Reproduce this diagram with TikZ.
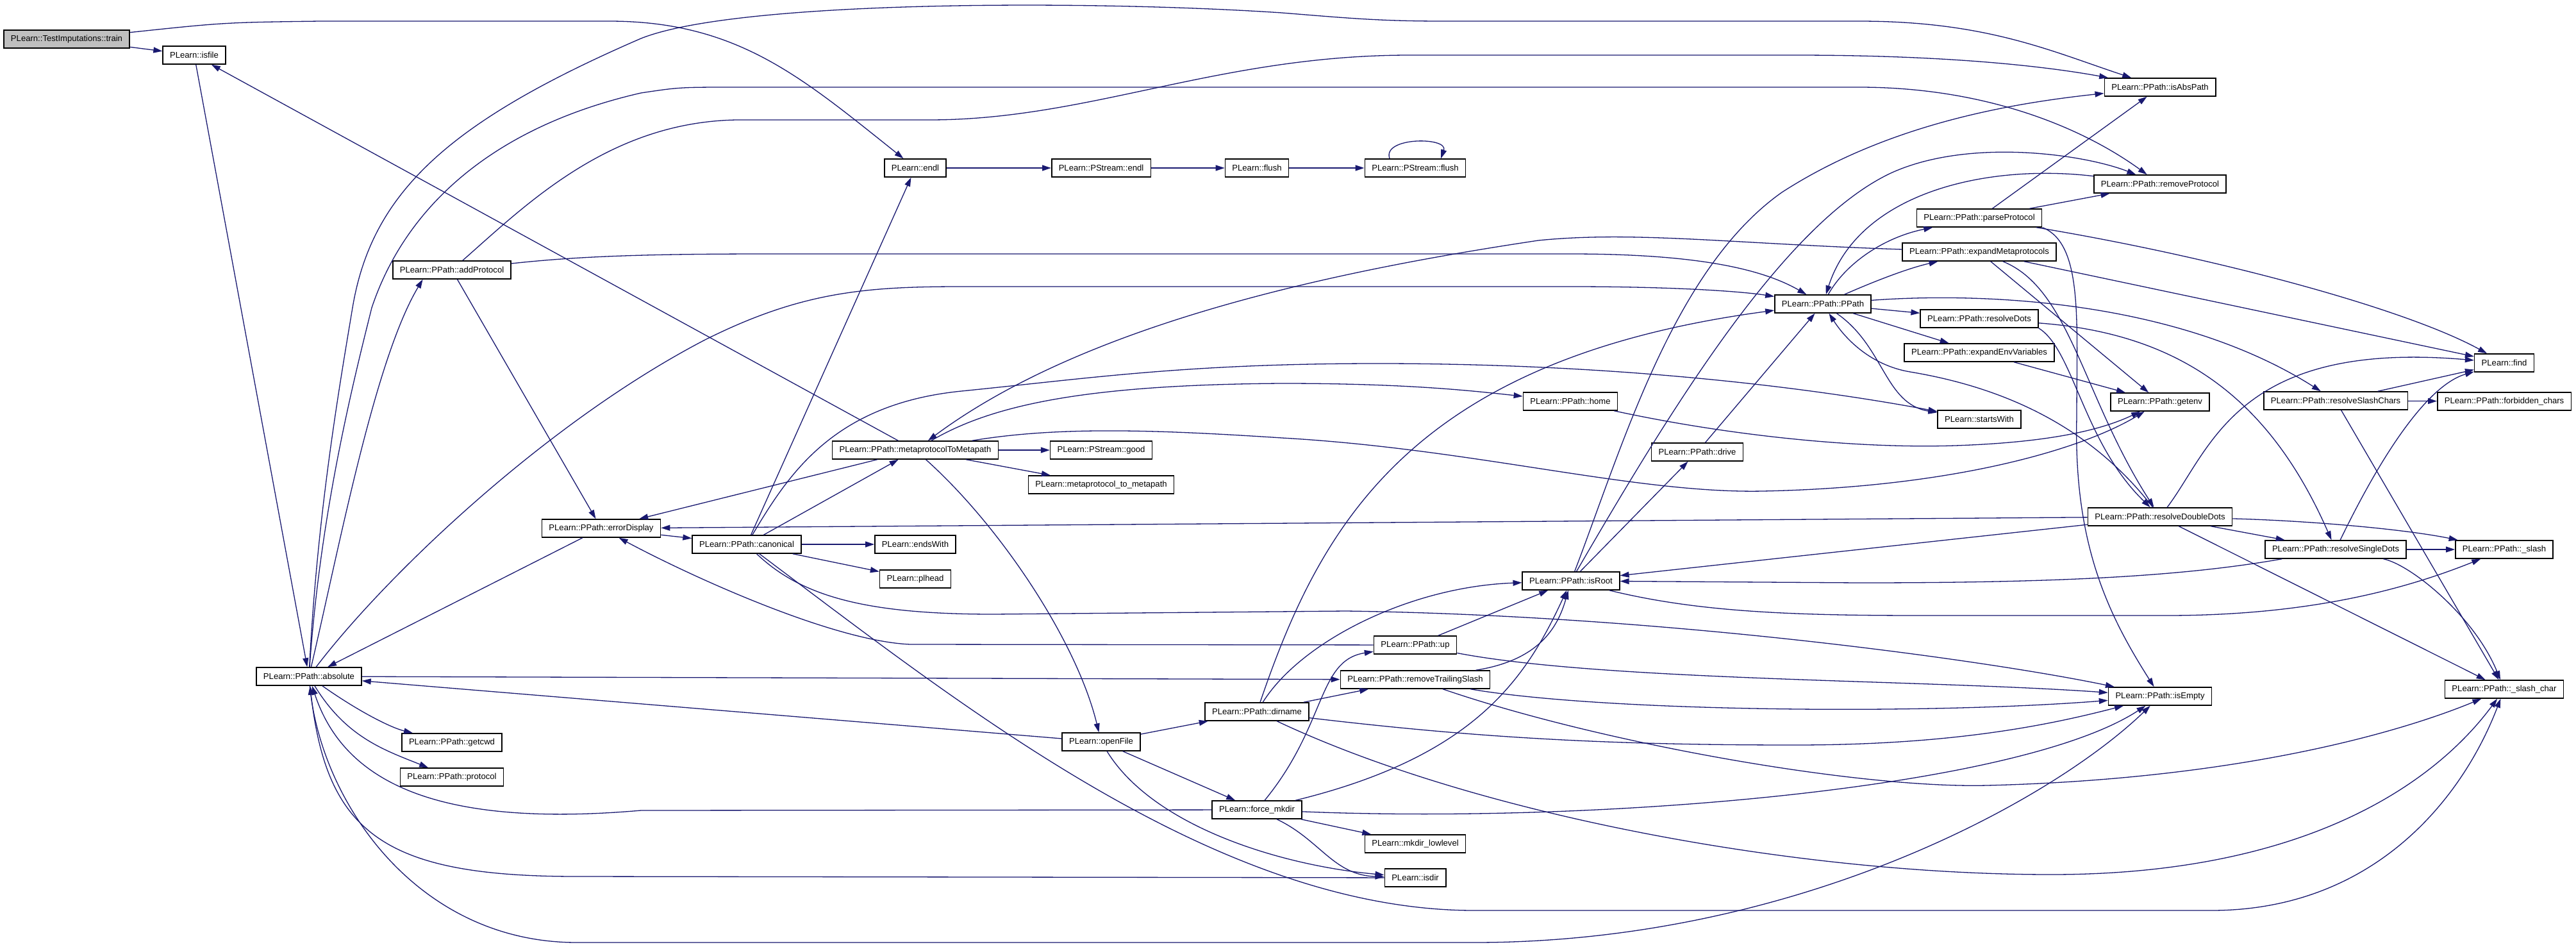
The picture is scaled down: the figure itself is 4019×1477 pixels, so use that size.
\documentclass[tikz,border=0pt]{standalone}
\usepackage{fontspec}
\setmainfont{Liberation Sans}
\usetikzlibrary{arrows.meta}
\definecolor{linkblue}{HTML}{191970}
\definecolor{nodegrey}{HTML}{BFBFBF}
\newcommand{\fnfont}{\fontsize{13.1}{15.7}\selectfont}
\tikzset{
  fn/.style={draw=black, line width=1.5pt, fill=white, rectangle, minimum height=28pt, inner xsep=11pt, inner ysep=0pt, font=\fnfont},
  call/.style={-{Triangle[length=14pt,width=9pt]}, draw=linkblue, line width=1.3pt}
}
\begin{document}
\begin{tikzpicture}[x=1pt,y=1pt]
\useasboundingbox (0,0) rectangle (4019,-1477);
\begin{scope}[every node/.style={fn}]
\node[fill=nodegrey] (train) at (104,-61) {PLearn::TestImputations::train};
\node (isfile) at (303,-86) {PLearn::isfile};
\node (absolute) at (482,-1055) {PLearn::PPath::absolute};
\node (addProtocol) at (705,-421) {PLearn::PPath::addProtocol};
\node (getcwd) at (705,-1158) {PLearn::PPath::getcwd};
\node (protocol) at (705,-1212) {PLearn::PPath::protocol};
\node (errorDisplay) at (938,-824) {PLearn::PPath::errorDisplay};
\node (canonical) at (1165,-849) {PLearn::PPath::canonical};
\node (endl) at (1428,-262) {PLearn::endl};
\node (mpToMp) at (1428,-702) {PLearn::PPath::metaprotocolToMetapath};
\node (endsWith) at (1428,-849) {PLearn::endsWith};
\node (plhead) at (1428,-903) {PLearn::plhead};
\node (psEndl) at (1718,-262) {PLearn::PStream::endl};
\node (psGood) at (1718,-702) {PLearn::PStream::good};
\node (mpToMpLow) at (1718,-756) {PLearn::metaprotocol\_to\_metapath};
\node (openFile) at (1718,-1157) {PLearn::openFile};
\node (flush) at (1961,-262) {PLearn::flush};
\node (dirname) at (1961,-1110) {PLearn::PPath::dirname};
\node (forceMkdir) at (1961,-1263) {PLearn::force\_mkdir};
\node (psFlush) at (2208,-262) {PLearn::PStream::flush};
\node (up) at (2208,-1006) {PLearn::PPath::up};
\node (rmTrailing) at (2208,-1060) {PLearn::PPath::removeTrailingSlash};
\node (mkdirLow) at (2208,-1316) {PLearn::mkdir\_lowlevel};
\node (isdir) at (2208,-1369) {PLearn::isdir};
\node (home) at (2450,-626) {PLearn::PPath::home};
\node (isRoot) at (2451,-906) {PLearn::PPath::isRoot};
\node (drive) at (2648,-705) {PLearn::PPath::drive};
\node (PPath) at (2844,-474) {PLearn::PPath::PPath};
\node (parseProt) at (3088,-340) {PLearn::PPath::parseProtocol};
\node (expandMeta) at (3088,-393) {PLearn::PPath::expandMetaprotocols};
\node (resolveDots) at (3088,-497) {PLearn::PPath::resolveDots};
\node (expandEnv) at (3088,-550) {PLearn::PPath::expandEnvVariables};
\node (startsWith) at (3088,-654) {PLearn::startsWith};
\node (isAbsPath) at (3370,-136) {PLearn::PPath::isAbsPath};
\node (rmProt) at (3370,-287) {PLearn::PPath::removeProtocol};
\node (getenv) at (3370,-627) {PLearn::PPath::getenv};
\node (resDouble) at (3370,-806) {PLearn::PPath::resolveDoubleDots};
\node (isEmpty) at (3370,-1086) {PLearn::PPath::isEmpty};
\node (resSlash) at (3644,-625) {PLearn::PPath::resolveSlashChars};
\node (resSingle) at (3644,-857) {PLearn::PPath::resolveSingleDots};
\node (find) at (3907,-566) {PLearn::find};
\node (forbidden) at (3907,-626) {PLearn::PPath::forbidden\_chars};
\node (slash) at (3907,-857) {PLearn::PPath::\_slash};
\node (slashChar) at (3907,-1075) {PLearn::PPath::\_slash\_char};
\end{scope}

\begin{scope}
\draw [call] (train) -- (isfile);
\draw [call] (train) .. controls (350,-35) .. (500,-33) -- (950,-33) .. controls (1150,-33) and (1250,-120) .. (endl);
\draw [call] (isfile) -- (absolute);
\draw [call] (mpToMp) -- (isfile);
\draw [call] (absolute) .. controls (495,-800) and (530,-600) .. (550,-480) .. controls (580,-300) and (700,-190) .. (1000,-60) .. controls (1150,0) and (1700,0) .. (2000,-20) .. controls (2100,-28) and (2150,-33) .. (2250,-33) -- (2900,-33) .. controls (3100,-33) and (3200,-80) .. (isAbsPath);
\draw [call] (absolute) .. controls (500,-800) and (550,-600) .. (580,-480) .. controls (630,-330) and (760,-200) .. (1000,-145) .. controls (1060,-136) .. (1150,-136) -- (2900,-136) .. controls (3100,-136) and (3250,-200) .. (rmProt);
\draw [call] (absolute) .. controls (530,-850) and (585,-560) .. (addProtocol.-162);
\draw [call] (absolute) .. controls (600,-900) and (850,-660) .. (1100,-530) .. controls (1250,-455) and (1350,-447) .. (1500,-447) -- (2450,-447) .. controls (2620,-447) and (2720,-455) .. (PPath);
\draw [call] (absolute) .. controls (560,-1110) and (610,-1135) .. (getcwd);
\draw [call] (absolute) .. controls (540,-1150) and (600,-1170) .. (protocol);
\draw [call] (absolute) -- (rmTrailing);
\draw [call] (absolute) .. controls (500,-1250) and (650,-1470) .. (900,-1470) -- (2300,-1470) .. controls (2800,-1470) and (3200,-1250) .. (isEmpty);
\draw [call] (isdir) -- (900,-1367) .. controls (600,-1367) and (510,-1300) .. (absolute);
\draw [call] (forceMkdir) -- (1000,-1264) .. controls (700,-1290) and (540,-1230) .. (absolute);
\draw [call] (openFile) -- (absolute);
\draw [call] (errorDisplay) -- (absolute);
\draw [call] (addProtocol) .. controls (820,-320) and (950,-190) .. (1150,-187) -- (1450,-187) .. controls (1700,-187) and (1900,-86) .. (2200,-86) -- (2800,-86) .. controls (3050,-86) and (3200,-105) .. (isAbsPath);
\draw [call] (addProtocol) .. controls (900,-400) and (1000,-396) .. (1200,-396) -- (2450,-396) .. controls (2650,-396) and (2750,-420) .. (PPath);
\draw [call] (addProtocol) -- (errorDisplay);
\draw [call] (errorDisplay) -- (canonical);
\draw [call] (mpToMp) -- (errorDisplay);
\draw [call] (resDouble) -- (errorDisplay);
\draw [call] (up) -- (1420,-1005) .. controls (1300,-1000) and (1080,-900) .. (errorDisplay);
\draw [call] (canonical) -- (endl);
\draw [call] (canonical) -- (mpToMp);
\draw [call] (canonical) -- (endsWith);
\draw [call] (canonical) -- (plhead);
\draw [call] (canonical) .. controls (1230,-740) and (1300,-630) .. (1500,-610) .. controls (1700,-590) and (1850,-567) .. (2150,-567) .. controls (2500,-567) and (2800,-600) .. (startsWith);
\draw [call] (canonical) .. controls (1250,-930) and (1350,-958) .. (1550,-958) -- (2100,-953) .. controls (2600,-960) and (3100,-1030) .. (isEmpty);
\draw [call] (canonical) .. controls (1500,-1100) and (1900,-1420) .. (2300,-1420) -- (3450,-1420) .. controls (3700,-1420) and (3840,-1250) .. (slashChar);
\draw [call] (endl) -- (psEndl);
\draw [call] (psEndl) -- (flush);
\draw [call] (flush) -- (psFlush);
\draw [call] ([xshift=-40pt]psFlush.north) .. controls +(-12,34) and +(12,34) .. ([xshift=40pt]psFlush.north);
\draw [call] (mpToMp) -- (psGood);
\draw [call] (mpToMp) -- (mpToMpLow);
\draw [call] (mpToMp) .. controls (1560,-820) and (1680,-1000) .. (openFile);
\draw [call] (mpToMp) .. controls (1550,-630) and (1700,-600) .. (2000,-598) .. controls (2200,-598) and (2300,-610) .. (home);
\draw [call] (mpToMp) .. controls (1650,-665) and (1800,-670) .. (2000,-683) .. controls (2300,-700) and (2550,-770) .. (2750,-766) .. controls (3050,-760) and (3250,-700) .. (getenv);
\draw [call] (expandMeta) .. controls (2700,-380) and (2550,-360) .. (2400,-375) .. controls (2100,-420) and (1700,-500) .. (mpToMp);
\draw [call] (openFile) -- (dirname);
\draw [call] (openFile) -- (forceMkdir);
\draw [call] (openFile) .. controls (1800,-1290) and (2000,-1350) .. (isdir);
\draw [call] (dirname) -- (rmTrailing);
\draw [call] (dirname) .. controls (2060,-820) and (2200,-560) .. (PPath);
\draw [call] (dirname) .. controls (2030,-1000) and (2200,-915) .. (isRoot);
\draw [call] (dirname) .. controls (2300,-1150) and (2500,-1162) .. (2800,-1162) .. controls (3050,-1162) and (3200,-1130) .. (isEmpty);
\draw [call] (dirname) .. controls (2300,-1270) and (2800,-1364) .. (3200,-1364) .. controls (3600,-1364) and (3800,-1220) .. (slashChar);
\draw [call] (forceMkdir) .. controls (2070,-1130) and (2055,-1030) .. (up);
\draw [call] (forceMkdir) .. controls (2300,-1180) and (2380,-1060) .. (isRoot);
\draw [call] (forceMkdir) -- (mkdirLow);
\draw [call] (forceMkdir) .. controls (2060,-1310) and (2080,-1365) .. (isdir);
\draw [call] (forceMkdir) .. controls (2500,-1285) and (3150,-1230) .. (isEmpty);
\draw [call] (up) -- (isRoot);
\draw [call] (up) .. controls (2500,-1062) and (3000,-1060) .. (isEmpty);
\draw [call] (rmTrailing) .. controls (2400,-1030) and (2430,-980) .. (isRoot);
\draw [call] (rmTrailing) .. controls (2500,-1110) and (3000,-1115) .. (isEmpty);
\draw [call] (rmTrailing) .. controls (2500,-1160) and (2900,-1230) .. (3100,-1225) .. controls (3500,-1215) and (3750,-1140) .. (slashChar);
\draw [call] (isRoot) .. controls (2530,-700) and (2610,-420) .. (2780,-300) .. controls (2950,-190) and (3150,-160) .. (isAbsPath);
\draw [call] (isRoot) .. controls (2600,-650) and (2780,-350) .. (2950,-270) .. controls (3070,-215) and (3250,-240) .. (rmProt);
\draw [call] (isRoot) -- (drive);
\draw [call] (drive) -- (PPath);
\draw [call] (isRoot) .. controls (2650,-955) and (2800,-960) .. (3000,-960) -- (3380,-960) .. controls (3600,-960) and (3750,-920) .. (slash);
\draw [call] (resDouble) -- (isRoot);
\draw [call] (resSingle) .. controls (3400,-900) and (3200,-909) .. (2900,-909) -- (isRoot);
\draw [call] (PPath) .. controls (2880,-410) and (2940,-370) .. (parseProt);
\draw [call] (PPath) .. controls (2910,-445) and (2970,-420) .. (expandMeta);
\draw [call] (PPath) -- (resolveDots);
\draw [call] (PPath) -- (expandEnv);
\draw [call] (PPath) .. controls (2940,-540) and (2940,-630) .. (startsWith);
\draw [call] (PPath) .. controls (3100,-455) and (3400,-470) .. (resSlash);
\draw [call] (resDouble) .. controls (3250,-650) and (3100,-600) .. (2980,-580) .. controls (2920,-570) and (2880,-530) .. (PPath);
\draw [call] (rmProt) .. controls (3100,-255) and (2900,-300) .. (PPath);
\draw [call] (parseProt) -- (isAbsPath);
\draw [call] (parseProt) -- (rmProt);
\draw [call] (parseProt) .. controls (3450,-400) and (3750,-480) .. (find);
\draw [call] (parseProt.south east) .. controls (3250,-380) and (3240,-500) .. (3240,-650) .. controls (3235,-850) and (3290,-960) .. (isEmpty);
\draw [call] (expandMeta) -- (find);
\draw [call] (expandMeta) -- (getenv);
\draw [call] (expandMeta) .. controls (3230,-450) and (3250,-620) .. (resDouble);
\draw [call] (resolveDots.south east) .. controls (3235,-545) and (3250,-690) .. (resDouble);
\draw [call] (resolveDots) .. controls (3400,-520) and (3540,-620) .. (resSingle);
\draw [call] (expandEnv) -- (getenv);
\draw [call] (home) .. controls (2700,-680) and (2900,-700) .. (3050,-695) .. controls (3200,-690) and (3280,-670) .. (getenv);
\draw [call] (resSlash) -- (find);
\draw [call] (resSlash) -- (forbidden);
\draw [call] (resSlash) -- (slashChar);
\draw [call] (resDouble) .. controls (3450,-700) and (3490,-530) .. (find);
\draw [call] (resDouble) -- (resSingle);
\draw [call] (resDouble) .. controls (3600,-812) and (3750,-825) .. (slash);
\draw [call] (resDouble) -- (slashChar);
\draw [call] (resSingle) .. controls (3720,-700) and (3790,-600) .. (find);
\draw [call] (resSingle) -- (slash);
\draw [call] (resSingle) .. controls (3760,-880) and (3860,-960) .. (slashChar);
\end{scope}
\end{tikzpicture}
\end{document}
